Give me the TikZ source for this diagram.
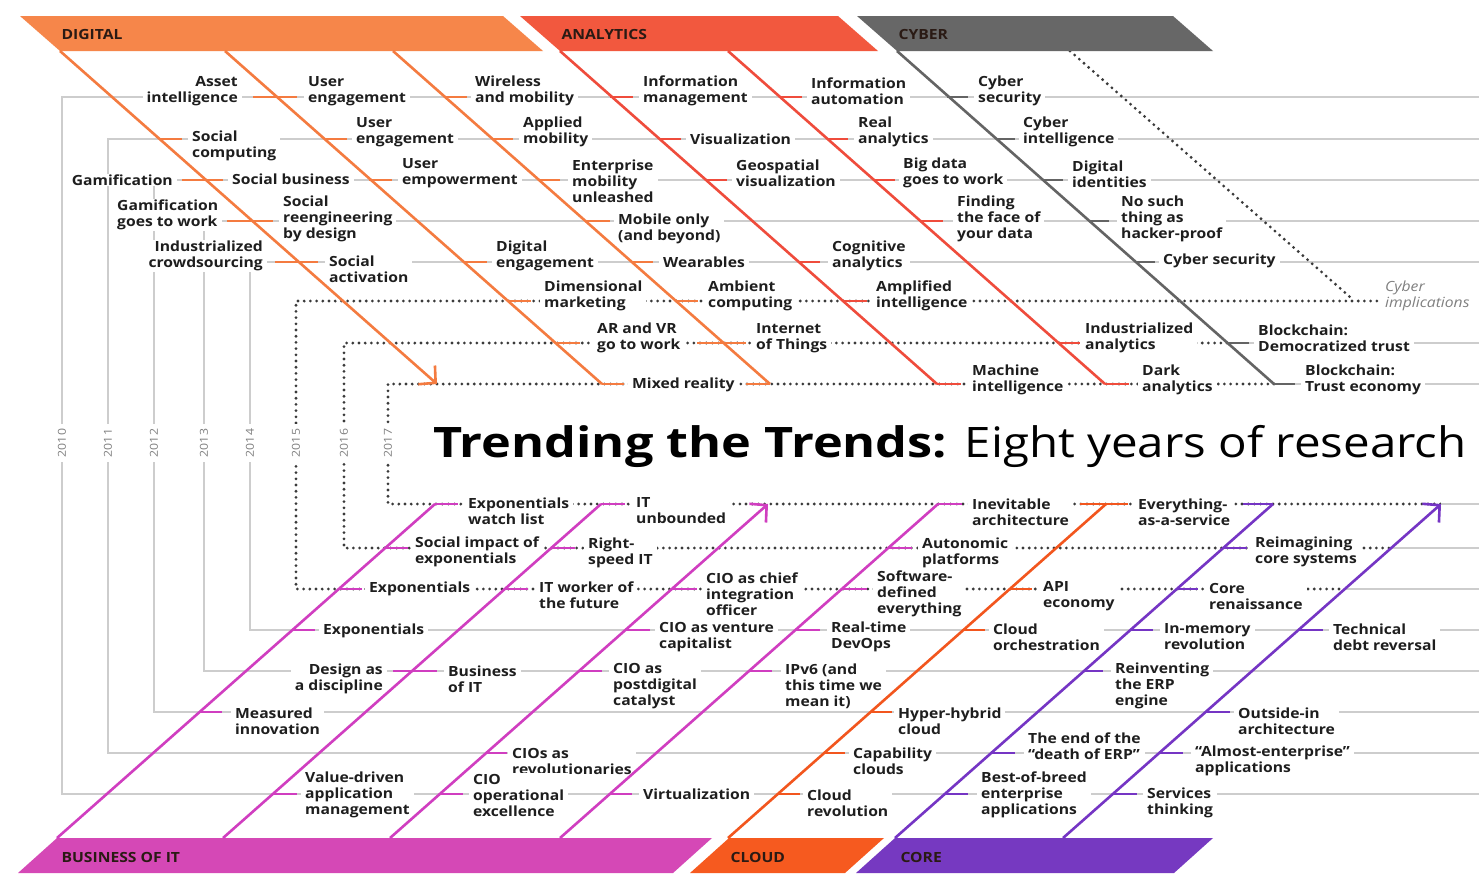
\documentclass[tikz,border=0pt]{standalone}
\usepackage{fontspec}
\setmainfont{Open Sans}[FakeStretch=1.12]
\newfontfamily\titlebold{Open Sans}[FakeStretch=1.2]
\newfontfamily\titlelight{Open Sans}[FakeStretch=1.13]
\usetikzlibrary{arrows.meta}
\definecolor{cdig}{HTML}{F6864A}
\definecolor{cana}{HTML}{F2583E}
\definecolor{ccyb}{HTML}{676767}
\definecolor{cbus}{HTML}{D548B6}
\definecolor{ccld}{HTML}{F65A1F}
\definecolor{ccore}{HTML}{7639C1}
\definecolor{ldig}{HTML}{F47B40}
\definecolor{lana}{HTML}{EF4C3C}
\definecolor{lcyb}{HTML}{646464}
\definecolor{lbus}{HTML}{D03EC0}
\definecolor{lcld}{HTML}{F2561E}
\definecolor{lcore}{HTML}{7535C4}
\definecolor{rowgray}{HTML}{CDCDCD}
\definecolor{dotgray}{HTML}{3A3A3A}
\definecolor{txt}{HTML}{1E1E1E}
\definecolor{bantxt}{HTML}{2A1A14}
\newcommand\labfont{\fontsize{14}{16}\selectfont\bfseries}
\newcommand\labW[4]{\node[lw] (#1) at (#2,#3) {#4};}
\newcommand\labE[4]{\node[le] (#1) at (#2,#3) {#4};}
\newcommand\tickH[4]{\draw[tick,#1] (#2,#4) -- (#3,#4);}
\tikzset{
  lab/.style={font=\labfont, text=txt, fill=white, inner xsep=4pt, inner ysep=1pt},
  lw/.style={lab, anchor=west, align=left},
  le/.style={lab, anchor=east, align=right},
  rowline/.style={rowgray, line width=1.3pt},
  dots/.style={dotgray, line width=3.1pt, line cap=round, dash pattern=on 0pt off 6.2pt},
  diag/.style={line width=2.6pt},
  tick/.style={line width=2.6pt},
  arrowed/.style={-{Straight Barb[length=12pt,width=25pt]}},
  yearlab/.style={font=\fontsize{11}{12}\selectfont, text=gray, rotate=90, fill=white, inner sep=5pt},
  bantext/.style={font=\labfont, text=bantxt, anchor=west}
}
\begin{document}
\begin{tikzpicture}[x=1pt,y=-1pt]
\useasboundingbox (0,0) rectangle (1479,873);
\fill[white] (0,0) rectangle (1479,873);

% ---- year frames ----
\draw[rowline] (1479,97) -- (62,97) -- (62,794) -- (1479,794);
\draw[rowline] (1479,139) -- (108,139) -- (108,753) -- (1479,753);
\draw[rowline] (1479,180) -- (154,180) -- (154,712) -- (1479,712);
\draw[rowline] (1479,221) -- (204,221) -- (204,671) -- (1479,671);
\draw[rowline] (1479,262) -- (250,262) -- (250,630) -- (1479,630);
\draw[dots] (1383,301) -- (296,301) -- (296,589) -- (1345,589);
\draw[rowline] (1345,589) -- (1479,589);
\draw[dots] (1227,343) -- (344,343) -- (344,548) -- (1391,548);
\draw[rowline] (1227,343) -- (1479,343);
\draw[rowline] (1391,548) -- (1479,548);
\draw[dots] (1274,384) -- (388,384) -- (388,504) -- (1441,504);
\draw[rowline] (1274,384) -- (1479,384);
\draw[rowline] (1441,504) -- (1479,504);

\foreach \x/\yr in {62/2010,108/2011,154/2012,204/2013,250/2014,296/2015,344/2016,388/2017}
  \node[yearlab] (y\yr) at (\x,443) {\yr};

% cyber implications dotted diagonal
\coordinate (cis) at (1070,51);
\coordinate (cie) at (1350,297);
\draw[dots] (cis) -- (cie);

% ---- banners ----
\fill[cdig] (20,16) -- (503,16) -- (543,51) -- (60,51) -- cycle;
\fill[cana] (520,16) -- (838,16) -- (878,51) -- (560,51) -- cycle;
\fill[ccyb] (857,16) -- (1173,16) -- (1213,51) -- (897,51) -- cycle;
\fill[cbus] (18,873) -- (57,838) -- (712,838) -- (673,873) -- cycle;
\fill[ccld] (690,873) -- (729,838) -- (884,838) -- (845,873) -- cycle;
\fill[ccore] (856,873) -- (895,838) -- (1213,838) -- (1174,873) -- cycle;
\node[bantext] (bdig) at (58,34) {DIGITAL};
\node[bantext] (bana) at (558,34) {ANALYTICS};
\node[bantext] (bcyb) at (895,34) {CYBER};
\node[bantext] (bbus) at (58,857) {BUSINESS OF IT};
\node[bantext] (bcld) at (727,857) {CLOUD};
\node[bantext] (bcore) at (897,857) {CORE};

% ---- title ----
\node[anchor=base west, inner sep=0pt, text=black] (title) at (433,457)
  {\fontsize{42}{48}\selectfont\titlebold\bfseries Trending the Trends: {\titlelight\mdseries Eight years of research}};

% ---- top labels ----
\labE{assetint}{242}{91}{Asset\\intelligence}
\labW{usereng1}{304}{91}{User\\engagement}
\labW{wireless}{471}{91}{Wireless\\and mobility}
\labW{infomgmt}{639}{91}{Information\\management}
\labW{infoauto}{807}{91}{Information\\automation}
\labW{cybsec1}{974}{91}{Cyber\\security}
\labW{soccomp}{188}{146}{Social\\computing}
\labW{usereng2}{352}{132}{User\\engagement}
\labW{appmob}{519}{132}{Applied\\mobility}
\labW{visual}{686}{139}{Visualization}
\labW{realan}{854}{132}{Real\\analytics}
\labW{cybint}{1019}{132}{Cyber\\intelligence}
\labE{gamif}{177}{180}{Gamification}
\labW{socbus}{228}{179}{Social business}
\labW{userempw}{398}{173}{User\\empowerment}
\labW{entmob}{568}{181}{Enterprise\\mobility\\unleashed}
\labW{geovis}{732}{173}{Geospatial\\visualization}
\labW{bigdata}{899}{173}{Big data\\goes to work}
\labW{digid}{1068}{174}{Digital\\identities}
\labW{gamwork}{113}{215}{Gamification\\goes to work}
\labW{socreeng}{279}{219}{Social\\reengineering\\by design}
\labW{mobonly}{614}{229}{Mobile only\\(and beyond)}
\labW{finding}{953}{219}{Finding\\the face of\\your data}
\labW{nosuch}{1117}{219}{No such\\thing as\\hacker-proof}
\labE{indcrowd}{267}{256}{Industrialized\\crowdsourcing}
\labW{socact}{325}{269}{Social\\activation}
\labW{digeng}{492}{256}{Digital\\engagement}
\labW{wearables}{659}{262}{Wearables}
\labW{cogan}{828}{256}{Cognitive\\analytics}
\labW{cybsec2}{1159}{261}{Cyber security}
\labW{dimmkt}{540}{296}{Dimensional\\marketing}
\labW{ambient}{704}{296}{Ambient\\computing}
\labW{amplified}{872}{296}{Amplified\\intelligence}
\node[lab, anchor=west, align=left, font=\fontsize{14}{16}\selectfont\itshape, text=gray] (cybimp) at (1381,296) {Cyber\\implications};
\labW{arvr}{593}{338}{AR and VR\\go to work}
\labW{iot}{752}{338}{Internet\\of Things}
\labW{indan}{1081}{338}{Industrialized\\analytics}
\labW{bcdem}{1254}{338}{Blockchain:\\Democratized trust}
\labW{mixed}{628}{385}{Mixed reality}
\labW{machint}{968}{380}{Machine\\intelligence}
\labW{dark}{1138}{380}{Dark\\analytics}
\labW{bctrust}{1301}{380}{Blockchain:\\Trust economy}

% ---- bottom labels ----
\labW{expwatch}{464}{511}{Exponentials\\watch list}
\labW{itunb}{632}{511}{IT\\unbounded}
\labW{inevit}{968}{512}{Inevitable\\architecture}
\labW{xaas}{1134}{512}{Everything-\\as-a-service}
\labW{socimp}{411}{552}{Social impact of\\exponentials}
\labW{rightspeed}{584}{553}{Right-\\speed IT}
\labW{autonomic}{918}{553}{Autonomic\\platforms}
\labW{reimag}{1251}{552}{Reimagining\\core systems}
\labW{exp15}{365}{589}{Exponentials}
\labW{itworker}{535}{595}{IT worker of\\the future}
\labW{ciochief}{702}{594}{CIO as chief\\integration\\officer}
\labW{sde}{873}{594}{Software-\\defined\\everything}
\labW{api}{1039}{596}{API\\economy}
\labW{coreren}{1205}{596}{Core\\renaissance}
\labW{exp14}{319}{631}{Exponentials}
\labW{ciovc}{655}{637}{CIO as venture\\capitalist}
\labW{devops}{827}{637}{Real-time\\DevOps}
\labW{cloudorch}{989}{637}{Cloud\\orchestration}
\labW{inmem}{1160}{637}{In-memory\\revolution}
\labW{techdebt}{1329}{637}{Technical\\debt reversal}
\labE{design}{387}{679}{Design as\\a discipline}
\labW{busit}{444}{679}{Business\\of IT}
\labW{ciopost}{609}{686}{CIO as\\postdigital\\catalyst}
\labW{ipv6}{781}{686}{IPv6 (and\\this time we\\mean it)}
\labW{reinvent}{1111}{686}{Reinventing\\the ERP\\engine}
\labW{measured}{231}{721}{Measured\\innovation}
\labW{hyper}{894}{721}{Hyper-hybrid\\cloud}
\labW{outside}{1234}{721}{Outside-in\\architecture}
\labW{ciosrev}{508}{761}{CIOs as\\revolutionaries}
\labW{capab}{849}{761}{Capability\\clouds}
\labW{enderp}{1024}{746}{The end of the\\“death of ERP”}
\labW{almost}{1191}{761}{“Almost-enterprise”\\applications}
\labW{valuedr}{301}{795}{Value-driven\\application\\management}
\labW{cioopex}{469}{795}{CIO\\operational\\excellence}
\labW{virt}{639}{794}{Virtualization}
\labW{cloudrev}{803}{803}{Cloud\\revolution}
\labW{bestbreed}{977}{795}{Best-of-breed\\enterprise\\applications}
\labW{services}{1143}{803}{Services\\thinking}

% ---- diagonal trend lines (top) ----
\coordinate (t1s) at (60,51);   \coordinate (t1e) at (437,384);
\coordinate (t2s) at (225,51);  \coordinate (t2e) at (602,384);
\coordinate (t3s) at (393,51);  \coordinate (t3e) at (770,384);
\coordinate (t4s) at (560,51);  \coordinate (t4e) at (937,384);
\coordinate (t5s) at (728,51);  \coordinate (t5e) at (1105,384);
\coordinate (t6s) at (897,51);  \coordinate (t6e) at (1274,384);
\draw[diag, ldig, arrowed] (t1s) -- (t1e);
\draw[diag, ldig] (t2s) -- (t2e);
\draw[diag, ldig] (t3s) -- (t3e);
\draw[diag, lana] (t4s) -- (t4e);
\draw[diag, lana] (t5s) -- (t5e);
\draw[diag, lcyb] (t6s) -- (t6e);

% ---- diagonal trend lines (bottom) ----
\coordinate (b1s) at (57,838);   \coordinate (b1e) at (435,504);
\coordinate (b2s) at (223,838);  \coordinate (b2e) at (601,504);
\coordinate (b3s) at (390,838);  \coordinate (b3e) at (768,504);
\coordinate (b4s) at (560,838);  \coordinate (b4e) at (938,504);
\coordinate (b5s) at (728,838);  \coordinate (b5e) at (1106,504);
\coordinate (b6s) at (895,838);  \coordinate (b6e) at (1273,504);
\coordinate (b7s) at (1063,838); \coordinate (b7e) at (1441,504);
\draw[diag, lbus] (b1s) -- (b1e);
\draw[diag, lbus] (b2s) -- (b2e);
\draw[diag, lbus, arrowed] (b3s) -- (b3e);
\draw[diag, lbus] (b4s) -- (b4e);
\draw[diag, lcld] (b5s) -- (b5e);
\draw[diag, lcore] (b6s) -- (b6e);
\draw[diag, lcore, arrowed] (b7s) -- (b7e);

% ---- ticks (top) ----
\tickH{ldig}{253}{297}{97} \tickH{ldig}{445}{467}{97} \tickH{lana}{610}{633}{97}
\tickH{lana}{779}{802}{97} \tickH{lcyb}{947}{968}{97}
\tickH{ldig}{160}{182}{139} \tickH{ldig}{325}{347}{139} \tickH{ldig}{493}{513}{139}
\tickH{lana}{660}{681}{139} \tickH{lana}{827}{848}{139} \tickH{lcyb}{996}{1015}{139}
\tickH{ldig}{182}{223}{180} \tickH{ldig}{369}{392}{180} \tickH{ldig}{538}{560}{180}
\tickH{lana}{706}{727}{180} \tickH{lana}{874}{895}{180} \tickH{lcyb}{1043}{1063}{180}
\tickH{ldig}{227}{273}{221} \tickH{ldig}{585}{610}{221} \tickH{lana}{920}{943}{221}
\tickH{lcyb}{1089}{1109}{221}
\tickH{ldig}{275}{318}{262} \tickH{ldig}{464}{487}{262} \tickH{ldig}{632}{653}{262}
\tickH{lana}{799}{820}{262} \tickH{lcyb}{1136}{1155}{262}
\tickH{ldig}{508}{531}{301} \tickH{ldig}{676}{698}{301} \tickH{lana}{843}{867}{301}
\tickH{ldig}{555}{580}{343} \tickH{ldig}{697}{746}{343} \tickH{lana}{1058}{1080}{343}
\tickH{lcyb}{1227}{1249}{343}
\tickH{ldig}{602}{624}{384} \tickH{ldig}{746}{770}{384} \tickH{lana}{937}{961}{384}
\tickH{lana}{1105}{1129}{384} \tickH{lcyb}{1274}{1295}{384}

% ---- ticks (bottom) ----
\tickH{lbus}{435}{458}{504} \tickH{lbus}{601}{625}{504} \tickH{lbus}{938}{962}{504}
\tickH{lcld}{1080}{1128}{504} \tickH{lcore}{1243}{1273}{504}
\tickH{lbus}{385}{408}{548} \tickH{lbus}{551}{575}{548} \tickH{lbus}{888}{912}{548}
\tickH{lcore}{1223}{1247}{548}
\tickH{lbus}{339}{362}{589} \tickH{lbus}{505}{528}{589} \tickH{lbus}{672}{697}{589}
\tickH{lbus}{842}{867}{589} \tickH{lcld}{1010}{1032}{589} \tickH{lcore}{1177}{1198}{589}
\tickH{lbus}{293}{315}{630} \tickH{lbus}{626}{650}{630} \tickH{lbus}{796}{820}{630}
\tickH{lcld}{962}{985}{630} \tickH{lcore}{1131}{1153}{630} \tickH{lcore}{1299}{1323}{630}
\tickH{lbus}{393}{437}{671} \tickH{lbus}{579}{602}{671} \tickH{lbus}{749}{772}{671}
\tickH{lcore}{1084}{1103}{671}
\tickH{lbus}{200}{222}{712} \tickH{lcld}{871}{892}{712} \tickH{lcore}{1206}{1230}{712}
\tickH{lbus}{486}{507}{753} \tickH{lcld}{824}{845}{753} \tickH{lcore}{991}{1015}{753}
\tickH{lcore}{1159}{1183}{753}
\tickH{lbus}{273}{297}{794} \tickH{lbus}{440}{463}{794} \tickH{lbus}{610}{632}{794}
\tickH{lcld}{778}{800}{794} \tickH{lcore}{945}{968}{794} \tickH{lcore}{1113}{1137}{794}
\end{tikzpicture}
\end{document}
